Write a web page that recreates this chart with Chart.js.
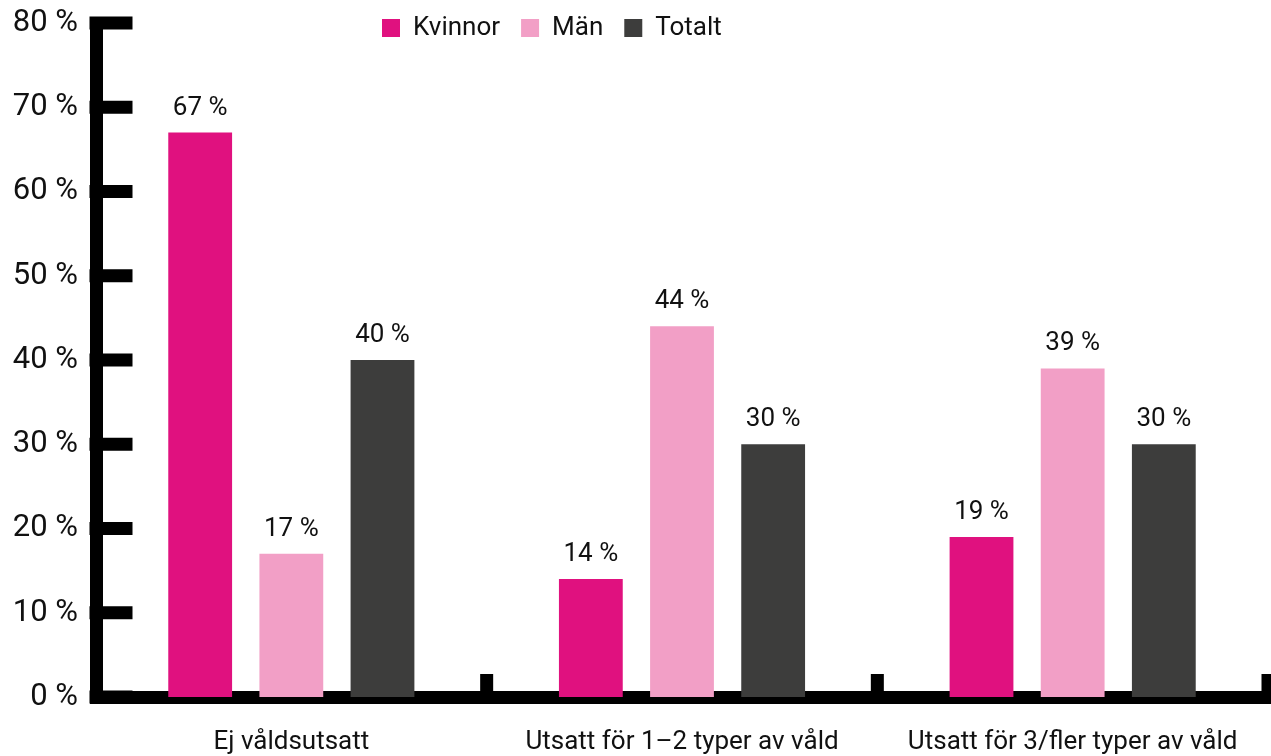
<!DOCTYPE html>
<html lang="sv">
<head>
<meta charset="utf-8">
<title>Våldsutsatthet</title>
<script src="https://cdn.jsdelivr.net/npm/chart.js@4.4.1/dist/chart.umd.min.js"></script>
<style>
    html, body { margin: 0; padding: 0; background: #fff; }
    .chart-box { width: 1271px; height: 756px; position: relative; }
</style>
</head>
<body>
<div class="chart-box"><canvas id="chartVald"></canvas></div>
<script>
// data
const categories = ['Ej våldsutsatt', 'Utsatt för 1–2 typer av våld', 'Utsatt för 3/fler typer av våld'];
const kvinnor = [67, 14, 19];
const man = [17, 44, 39];
const totalt = [40, 30, 30];
const yTicks = [0, 10, 20, 30, 40, 50, 60, 70, 80];

const FONT = 'Roboto';
const TEXT = '#111';

// tjocka axelmarkeringar, inåt mot diagrammet
const axisMarks = {
    id: 'axisMarks',
    afterDraw(chart) {
        const { ctx, scales: { x, y } } = chart;
        const w = 13;
        ctx.save();
        ctx.fillStyle = '#000';
        y.ticks.forEach(t => {
            const py = y.getPixelForValue(t.value);
            ctx.fillRect(y.right - w / 2, py - w / 2, 43, w);
        });
        const half = (x.getPixelForValue(1) - x.getPixelForValue(0)) / 2;
        categories.forEach((c, i) => {
            const px = x.getPixelForValue(i) + half;
            ctx.fillRect(px - w / 2, x.top - 23, w, 23);
        });
        ctx.restore();
    }
};

// värden ovanför staplarna
const barLabels = {
    id: 'barLabels',
    afterDatasetsDraw(chart) {
        const ctx = chart.ctx;
        ctx.save();
        ctx.font = '26px ' + FONT;
        ctx.fillStyle = TEXT;
        ctx.textAlign = 'center';
        ctx.textBaseline = 'alphabetic';
        chart.data.datasets.forEach((ds, i) => {
            chart.getDatasetMeta(i).data.forEach((bar, j) => {
                ctx.fillText(ds.data[j] + ' %', bar.x, bar.y - 18);
            });
        });
        ctx.restore();
    }
};

// flytta legenden (den tar ingen plats ovanför ytan)
const legendPos = {
    id: 'legendPos',
    afterLayout(chart) {
        const lg = chart.legend;
        lg.left = 361;
        lg.top = -6;
        lg.bottom = lg.top + lg.height;
    }
};

const data = {
    labels: categories,
    datasets: [
        { label: 'Kvinnor', data: kvinnor, backgroundColor: '#e0117f' },
        { label: 'Män', data: man, backgroundColor: '#f29fc6' },
        { label: 'Totalt', data: totalt, backgroundColor: '#3d3d3c' }
    ]
};

const options = {
    maintainAspectRatio: false,
    responsive: true,
    animation: false,
    layout: { padding: { top: -34, right: 3, bottom: 0, left: 0 } },
    datasets: {
        bar: { categoryPercentage: 0.7, barPercentage: 0.7, borderWidth: 0 }
    },
    plugins: {
        legend: {
            position: 'top',
            align: 'start',
            labels: {
                boxWidth: 18,
                boxHeight: 18,
                padding: 21,
                color: TEXT,
                font: { family: FONT, size: 26 }
            }
        },
        tooltip: { enabled: false }
    },
    scales: {
        x: {
            z: 1,
            grid: { display: false, drawTicks: false, lineWidth: 13 },
            border: { display: true, width: 13, color: '#000' },
            ticks: { color: TEXT, padding: 30, font: { family: FONT, size: 26 } },
            afterFit: s => { s.height = 59; }
        },
        y: {
            z: 1,
            min: 0,
            max: 80,
            afterBuildTicks: s => { s.ticks = yTicks.map(v => ({ value: v })); },
            grid: { display: false, drawTicks: false, lineWidth: 13 },
            border: { display: true, width: 13, color: '#000' },
            ticks: {
                color: TEXT,
                padding: 18,
                font: { family: FONT, size: 31 },
                callback: v => v + ' %'
            },
            afterFit: s => {
                s.width = 96;
                s.paddingTop = 0;
                s.paddingBottom = 0;
            }
        }
    }
};

window.addEventListener('DOMContentLoaded', function() {
    new Chart(document.getElementById('chartVald'), {
        type: 'bar',
        data: data,
        options: options,
        plugins: [legendPos, barLabels, axisMarks]
    });
});
</script>
</body>
</html>
